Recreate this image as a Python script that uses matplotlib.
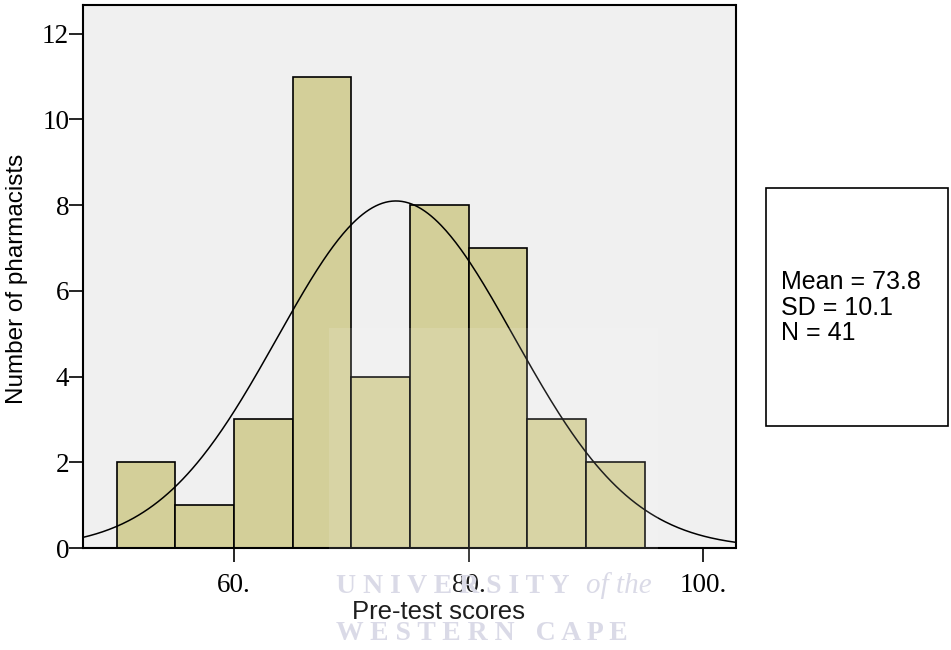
import numpy as np
import matplotlib
matplotlib.use('Agg')
import matplotlib.pyplot as plt
from matplotlib.patches import Rectangle

# histogram data (bin width 5)
bin_edges = [50, 55, 60, 65, 70, 75, 80, 85, 90, 95]
counts = [2, 1, 3, 11, 4, 8, 7, 3, 2]
mean_score = 73.8
sd_score = 10.1
n_total = 41
x_ticks = [60, 80, 100]
x_tick_labels = ['60.', '80.', '100.']
y_ticks = [0, 2, 4, 6, 8, 10, 12]

fig = plt.figure(figsize=(9.51, 6.5), dpi=100)
ax = fig.add_axes([83/951, 102/650, (735.5-83)/951, (548-5)/650])
ax.set_facecolor('#f0f0f0')

widths = np.diff(bin_edges)
ax.bar(bin_edges[:-1], counts, width=widths, align='edge', color='#d3cf99',
       edgecolor='black', linewidth=1.2, zorder=2)

xs = np.linspace(47.13, 102.75, 400)
bw = widths[0]
ys = n_total * bw / (sd_score * np.sqrt(2 * np.pi)) * np.exp(-0.5 * ((xs - mean_score) / sd_score) ** 2)
ax.plot(xs, ys, color='black', linewidth=1.1, zorder=3)

ax.set_xlim(47.13, 102.75)
ax.set_ylim(0, 12.67)
ax.set_xticks(x_ticks)
ax.set_xticklabels(x_tick_labels)
ax.set_yticks(y_ticks)
for lab in ax.get_xticklabels() + ax.get_yticklabels():
    lab.set_fontfamily('Liberation Serif')
    lab.set_fontsize(19.5)
ax.tick_params(direction='out', length=10, width=1.2)
ax.tick_params(axis='y', pad=0)
ax.tick_params(axis='x', pad=8)
for s in ax.spines.values():
    s.set_linewidth(1.5)

ax.set_xlabel('Pre-test scores', fontfamily='Liberation Sans', fontsize=18.5, va='top')
ax.xaxis.set_label_coords((439-83)/652.5, -(600-548)/543)
ax.set_ylabel('Number of pharmacists', fontfamily='Liberation Sans', fontsize=17.5, va='center')
ax.yaxis.set_label_coords(-(83-17)/652.5, 0.5 - (278-276)/543)

# stats box on the right
fig.patches.append(Rectangle((766/951, (650-426)/650), (948-766)/951, (426-188)/650,
                             transform=fig.transFigure, facecolor='white',
                             edgecolor='black', linewidth=1.2))
fig.text(781/951, 1 - 270/650,
         'Mean = %.1f\nSD = %.1f\nN = %d' % (mean_score, sd_score, n_total),
         fontfamily='Liberation Sans', fontsize=18, va='top', ha='left',
         linespacing=1.08)

# faint watermark
fig.patches.append(Rectangle((329/951, (650-642)/650), (658-329)/951, (642-328)/650,
                             transform=fig.transFigure, facecolor='white',
                             alpha=0.12, edgecolor='none', zorder=5))
wm = '#d6d6e4'
fig.text(336/951, 1 - 593/650, 'U N I V E R S I T Y', fontfamily='Liberation Serif',
         fontsize=20, fontweight='bold', color=wm, zorder=0, va='baseline')
fig.text(586/951, 1 - 593/650, 'of the', fontfamily='Liberation Serif',
         fontsize=21, fontstyle='italic', color=wm, zorder=0, va='baseline')
fig.text(336/951, 1 - 640/650, 'W E S T E R N   C A P E', fontfamily='Liberation Serif',
         fontsize=20, fontweight='bold', color=wm, zorder=0, va='baseline')

fig.savefig('out.png', dpi=100)
